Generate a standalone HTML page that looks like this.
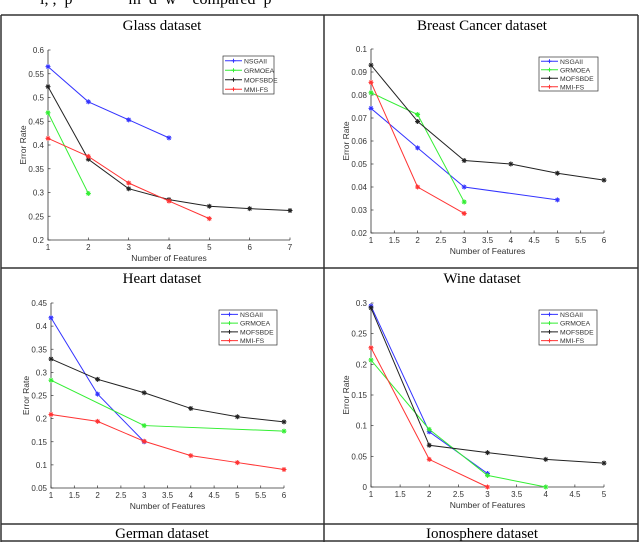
<!DOCTYPE html>
<html><head><meta charset="utf-8">
<style>
body{margin:0;width:640px;height:542px;overflow:hidden;background:#fff;position:relative;font-family:"Liberation Sans",sans-serif}
#top{position:absolute;left:40px;top:-9px;font:16px "Liberation Serif",serif;color:#000;white-space:pre}
svg{position:absolute;left:0;top:0}
</style></head><body>
<div id="top">i, ,  p              m  d  w    compared  p</div>
<svg id="s" width="640" height="542"></svg>
<script>
const NS='http://www.w3.org/2000/svg';
const svg=document.getElementById('s');
function mk(t,a,p){const e=document.createElementNS(NS,t);for(const k in a)e.setAttribute(k,a[k]);(p||svg).appendChild(e);return e;}
[[1,15,638,15],[1,268,638,268],[1,524,638,524],[1,541,638,541],[1,15,1,542],[324,15,324,542],[638,15,638,542]].forEach(l=>{
 const e=mk('line',{x1:l[0],y1:l[1],x2:l[2],y2:l[3],stroke:'#333','stroke-width':1.5});
 
 
});
function title(txt,x,y){const t=mk('text',{x:x,y:y,'text-anchor':'middle','font-family':'Liberation Serif, serif','font-size':15,fill:'#000'});t.textContent=txt;
 
 }
title('Glass dataset',162,30);title('Breast Cancer dataset',482,30);
title('Heart dataset',162,283);title('Wine dataset',482,283);
title('German dataset',162,538);title('Ionosphere dataset',482,538);

const seriesNames=['NSGAII','GRMOEA','MOFSBDE','MMI-FS'];
const colors=['#3333ff','#33ee33','#222222','#ff3333'];
const glassX=[[1,2,3,4],[1,2],[1,2,3,4,5,6,7],[1,2,3,4,5]];
const glassY=[[0.565,0.491,0.453,0.415],[0.468,0.298],[0.523,0.370,0.308,0.285,0.271,0.266,0.262],[0.414,0.376,0.320,0.282,0.245]];
const glassXTicks=['1','2','3','4','5','6','7'];
const glassYTicks=['0.2','0.25','0.3','0.35','0.4','0.45','0.5','0.55','0.6'];
const breastX=[[1,2,3,5],[1,2,3],[1,2,3,4,5,6],[1,2,3]];
const breastY=[[0.0742,0.057,0.040,0.0344],[0.081,0.0715,0.0335],[0.093,0.0685,0.0515,0.050,0.046,0.043],[0.0855,0.040,0.0285]];
const breastXTicks=['1','1.5','2','2.5','3','3.5','4','4.5','5','5.5','6'];
const breastYTicks=['0.02','0.03','0.04','0.05','0.06','0.07','0.08','0.09','0.1'];
const heartX=[[1,2,3],[1,3,6],[1,2,3,4,5,6],[1,2,3,4,5,6]];
const heartY=[[0.418,0.253,0.150],[0.283,0.185,0.173],[0.329,0.285,0.256,0.222,0.204,0.193],[0.209,0.194,0.151,0.120,0.105,0.090]];
const heartXTicks=['1','1.5','2','2.5','3','3.5','4','4.5','5','5.5','6'];
const heartYTicks=['0.05','0.1','0.15','0.2','0.25','0.3','0.35','0.4','0.45'];
const wineX=[[1,2,3],[1,2,3,4],[1,2,3,4,5],[1,2,3]];
const wineY=[[0.295,0.090,0.022],[0.207,0.094,0.019,0],[0.292,0.068,0.056,0.045,0.039],[0.227,0.045,0]];
const wineXTicks=['1','1.5','2','2.5','3','3.5','4','4.5','5'];
const wineYTicks=['0','0.05','0.1','0.15','0.2','0.25','0.3'];

function panel(name,P,xs,ys,xt,yt){
 const g=mk('g',{});
 
 
 const x0=+xt[0],x1=+xt[xt.length-1],y0=+yt[0],y1=+yt[yt.length-1];
 const X=v=>P.l+(v-x0)/(x1-x0)*(P.r-P.l);
 const Y=v=>P.b-(v-y0)/(y1-y0)*(P.b-P.t);
 const ax=mk('path',{d:`M${P.l},${P.t}V${P.b}H${P.r}`,stroke:'#333',fill:'none','stroke-width':0.8},g);
 
 
 xt.forEach(s=>{const x=X(+s);mk('line',{x1:x,x2:x,y1:P.b,y2:P.b-2.5,stroke:'#333','stroke-width':0.7},g);
  const t=mk('text',{x:x,y:P.b+10,'text-anchor':'middle','font-size':8,fill:'#333'},g);t.textContent=s;
  
  });
 yt.forEach(s=>{const y=Y(+s);mk('line',{x1:P.l,x2:P.l+2.5,y1:y,y2:y,stroke:'#333','stroke-width':0.7},g);
  const t=mk('text',{x:P.l-4,y:y+3,'text-anchor':'end','font-size':8,fill:'#333'},g);t.textContent=s;
  
  });
 const xl=mk('text',{x:(P.l+P.r)/2,y:P.b+21,'text-anchor':'middle','font-size':8.5,fill:'#333'},g);xl.textContent='Number of Features';
 
 
 const yc=(P.t+P.b)/2;
 const yl=mk('text',{x:P.l-22,y:yc,'text-anchor':'middle','font-size':8.5,fill:'#333',transform:`rotate(-90 ${P.l-22} ${yc})`},g);yl.textContent='Error Rate';
 
 
 xs.forEach((xa,i)=>{
  const d=xa.map((v,j)=>(j?'L':'M')+X(v)+','+Y(ys[i][j])).join('');
  const pl=mk('path',{d:d,stroke:colors[i],fill:'none','stroke-width':1},g);
  
  
  xa.forEach((v,j)=>{const cx=X(v),cy=Y(ys[i][j]);
   const m=mk('path',{d:`M${cx-2.5},${cy}h5M${cx},${cy-2.5}v5M${cx-1.8},${cy-1.8}l3.6,3.6M${cx-1.8},${cy+1.8}l3.6,-3.6`,stroke:colors[i],'stroke-width':1},g);
   
   });
 });
 const L=P.leg;
 const lb=mk('rect',{x:L[0],y:L[1],width:L[2],height:L[3],fill:'#fff',stroke:'#333','stroke-width':0.7},g);
 
 
 const dy=L[3]/4;
 seriesNames.forEach((n,i)=>{const y=L[1]+dy*(i+0.5);
  mk('line',{x1:L[0]+2,x2:L[0]+19,y1:y,y2:y,stroke:colors[i],'stroke-width':1},g);
  mk('path',{d:`M${L[0]+8.5},${y}h4M${L[0]+10.5},${y-2}v4`,stroke:colors[i],'stroke-width':1},g);
  const t=mk('text',{x:L[0]+21,y:y+2.6,'font-size':6.8,fill:'#333'},g);t.textContent=n;
  
  });
}
panel('glass',{l:48,r:290,t:50,b:240,leg:[223,56,51,38]},glassX,glassY,glassXTicks,glassYTicks);
panel('breast-cancer',{l:371,r:604,t:49,b:233,leg:[539,57,59,34]},breastX,breastY,breastXTicks,breastYTicks);
panel('heart',{l:51,r:284,t:303,b:488,leg:[219,310,58,35]},heartX,heartY,heartXTicks,heartYTicks);
panel('wine',{l:371,r:604,t:303,b:487,leg:[539,310,58,35]},wineX,wineY,wineXTicks,wineYTicks);
</script>
</body></html>
